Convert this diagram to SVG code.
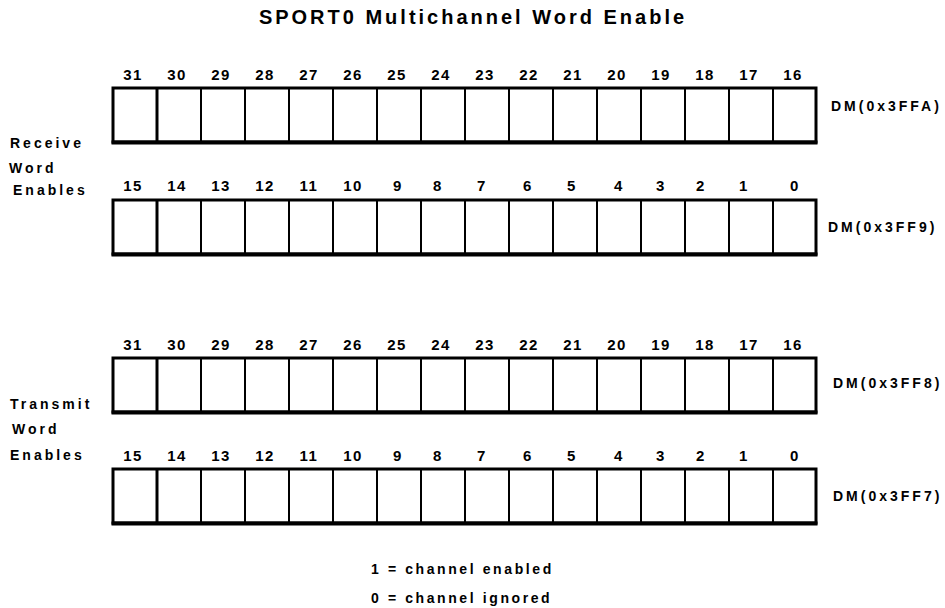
<svg xmlns="http://www.w3.org/2000/svg" xmlns:xlink="http://www.w3.org/1999/xlink" width="945" height="608" viewBox="0 0 945 608">
<style>
text{font-family:"Liberation Sans",Arial,sans-serif;font-weight:bold;fill:#000}
.title{font-size:20px;letter-spacing:3px;text-anchor:middle}
.num{font-size:15px;letter-spacing:1.5px;text-anchor:middle}
.lbl{font-size:14px;letter-spacing:3px}
.leg{font-size:14px;letter-spacing:2.6px}
</style>
<defs>
<g id="reg">
<rect x="113" y="0" width="703" height="54" fill="#fff" stroke="#000" stroke-width="3"/>
<path d="M157 0V54M201 0V54M245 0V54M289 0V54M333 0V54M377 0V54M421 0V54M465 0V54M509 0V54M553 0V54M597 0V54M641 0V54M685 0V54M729 0V54M773 0V54" stroke="#000" stroke-width="2" fill="none"/>
<path d="M157 0V54" stroke="#000" stroke-width="3"/>
<path d="M111.5 54.5H817.5" stroke="#000" stroke-width="4"/>
</g>
</defs>
<rect width="945" height="608" fill="#fff"/>
<text class="title" x="473" y="24">SPORT0 Multichannel Word Enable</text>

<g id="rx-labels">
<text class="lbl" x="10" y="148">Receive</text>
<text class="lbl" x="9" y="173">Word</text>
<text class="lbl" x="13" y="195">Enables</text>
</g>
<g id="tx-labels">
<text class="lbl" x="10" y="409">Transmit</text>
<text class="lbl" x="12" y="434">Word</text>
<text class="lbl" x="10" y="460">Enables</text>
</g>

<g id="reg-3FFA">
<use href="#reg" xlink:href="#reg" y="88"/>
<text class="num" y="80"><tspan x="133">31</tspan><tspan x="177">30</tspan><tspan x="221">29</tspan><tspan x="265">28</tspan><tspan x="309">27</tspan><tspan x="353">26</tspan><tspan x="397">25</tspan><tspan x="441">24</tspan><tspan x="485">23</tspan><tspan x="529">22</tspan><tspan x="573">21</tspan><tspan x="617">20</tspan><tspan x="661">19</tspan><tspan x="705">18</tspan><tspan x="749">17</tspan><tspan x="793">16</tspan></text>
<text class="lbl" x="831" y="111">DM(0x3FFA)</text>
</g>

<g id="reg-3FF9">
<use href="#reg" xlink:href="#reg" y="200"/>
<text class="num" y="191"><tspan x="133">15</tspan><tspan x="177">14</tspan><tspan x="221">13</tspan><tspan x="265">12</tspan><tspan x="309">11</tspan><tspan x="353">10</tspan><tspan x="398">9</tspan><tspan x="438">8</tspan><tspan x="482">7</tspan><tspan x="528">6</tspan><tspan x="572">5</tspan><tspan x="619">4</tspan><tspan x="661">3</tspan><tspan x="701">2</tspan><tspan x="744">1</tspan><tspan x="795">0</tspan></text>
<text class="lbl" x="828" y="232">DM(0x3FF9)</text>
</g>

<g id="reg-3FF8">
<use href="#reg" xlink:href="#reg" y="358"/>
<text class="num" y="350"><tspan x="133">31</tspan><tspan x="177">30</tspan><tspan x="221">29</tspan><tspan x="265">28</tspan><tspan x="309">27</tspan><tspan x="353">26</tspan><tspan x="397">25</tspan><tspan x="441">24</tspan><tspan x="485">23</tspan><tspan x="529">22</tspan><tspan x="573">21</tspan><tspan x="617">20</tspan><tspan x="661">19</tspan><tspan x="705">18</tspan><tspan x="749">17</tspan><tspan x="793">16</tspan></text>
<text class="lbl" x="833" y="388">DM(0x3FF8)</text>
</g>

<g id="reg-3FF7">
<use href="#reg" xlink:href="#reg" y="469"/>
<text class="num" y="461"><tspan x="133">15</tspan><tspan x="177">14</tspan><tspan x="221">13</tspan><tspan x="265">12</tspan><tspan x="309">11</tspan><tspan x="353">10</tspan><tspan x="398">9</tspan><tspan x="438">8</tspan><tspan x="482">7</tspan><tspan x="528">6</tspan><tspan x="572">5</tspan><tspan x="619">4</tspan><tspan x="661">3</tspan><tspan x="701">2</tspan><tspan x="744">1</tspan><tspan x="795">0</tspan></text>
<text class="lbl" x="833" y="501">DM(0x3FF7)</text>
</g>

<g id="legend">
<text class="leg" x="371" y="574">1 = channel enabled</text>
<text class="leg" x="371" y="603">0 = channel ignored</text>
</g>
</svg>
